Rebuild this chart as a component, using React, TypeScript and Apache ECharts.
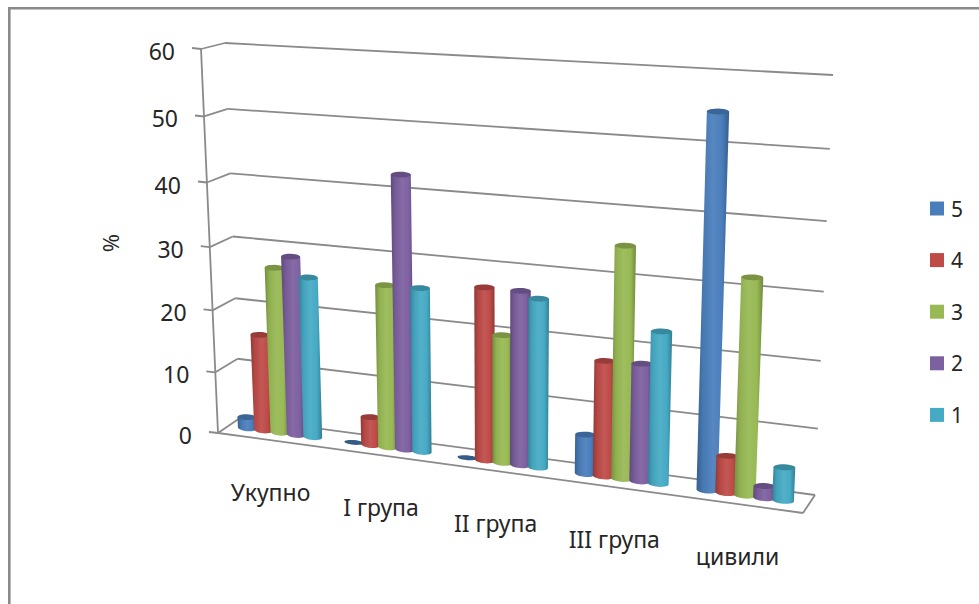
import React, { useEffect, useRef } from "react";
import * as echarts from "echarts";

const categories = ["Укупно", "I група", "II група", "III група", "цивили"];
const seriesNames = ["5", "4", "3", "2", "1"];
const grade5 = [1.8, 0, 0, 6.1, 54.8];
const grade4 = [15.7, 4.5, 26.9, 17.7, 5.6];
const grade3 = [26.7, 25.7, 19.9, 35, 32.1];
const grade2 = [28.7, 42.7, 26.9, 17.9, 1.8];
const grade1 = [25.7, 25.8, 26, 23, 5];
const gradeValues = [grade5, grade4, grade3, grade2, grade1];
const seriesColors = ["#4a7ebb", "#be4b48", "#98b954", "#7d60a0", "#46aac5"];
const valueTicks = [0, 10, 20, 30, 40, 50, 60];
const axisTitle = "%";

const LINE = "#8a8a8a";
const FONT = '"Noto Sans", sans-serif';

// Corners of the 3D plot box on screen: floor and ceiling of each vertical edge.
const CORNERS = {
  frontLeft: { floor: [218, 433], top: [201, 49] },
  backLeft: { floor: [240, 418], top: [225, 43] },
  backRight: { floor: [815, 495], top: [833, 75] },
  frontRight: { floor: [803, 513], top: [821, 83] },
};
const FORESHORTEN_ACROSS = 0.095;
const FORESHORTEN_UP = 0.066;
const BAR_STEP = 0.0305;
const BAR_RADIUS = 0.0172;
const LABEL_SHIFT = -0.008;
// Small sideways correction of each bar cluster inside its category band.
const CLUSTER_SHIFT = [-0.005, -0.008, -0.006, -0.004, -0.002];

const foreshorten = (t: number, k: number) => t / (1 + k * (1 - t));
const mix = (a: number[], b: number[], t: number) => [a[0] + (b[0] - a[0]) * t, a[1] + (b[1] - a[1]) * t];

// u: across the categories, depth: 0 front to 1 back, t: share of the value range.
function project(u: number, depth: number, t: number) {
  const across = foreshorten(u, FORESHORTEN_ACROSS);
  const up = foreshorten(t, FORESHORTEN_UP);
  const edge = (level: "floor" | "top") =>
    mix(
      mix(CORNERS.frontLeft[level], CORNERS.frontRight[level], across),
      mix(CORNERS.backLeft[level], CORNERS.backRight[level], across),
      depth
    );
  return mix(edge("floor"), edge("top"), up);
}

// Converts a data point into the unit box of the cartesian system that holds it.
function toUnit(api: any, sys: any, category: number, value: number) {
  const p = api.coord([category, value]);
  return { u: (p[0] - sys.x) / sys.width, t: (sys.y + sys.height - p[1]) / sys.height };
}

function shade(hex: string, f: number) {
  const n = parseInt(hex.slice(1), 16);
  const c = [(n >> 16) & 255, (n >> 8) & 255, n & 255].map((v) => {
    const out = f < 1 ? v * f : v + (255 - v) * (f - 1);
    return Math.round(out);
  });
  return `rgb(${c[0]},${c[1]},${c[2]})`;
}

function ellipseArc(center: number[], half: number[], ry: number, tilt: number, from: number, to: number, n: number) {
  const pts: number[][] = [];
  for (let i = 0; i <= n; i++) {
    const a = from + ((to - from) * i) / n;
    pts.push([center[0] + half[0] * Math.cos(a), center[1] + half[1] * tilt * Math.cos(a) + ry * Math.sin(a)]);
  }
  return pts;
}

function cylinderItem(seriesIndex: number, color: string) {
  return (params: any, api: any) => {
    const sys = params.coordSys;
    const category = api.value(0);
    const value = api.value(1);
    const { u, t } = toUnit(api, sys, category, value);
    const uc = u + CLUSTER_SHIFT[category] + (seriesIndex - 2) * BAR_STEP;
    const ends = [0, t].map((tt) => {
      const l = project(uc - BAR_RADIUS, 0.5, tt);
      const r = project(uc + BAR_RADIUS, 0.5, tt);
      return { l, r, c: mix(l, r, 0.5), half: [(r[0] - l[0]) / 2, (r[1] - l[1]) / 2] };
    });
    const [base, top] = ends;
    const children: any[] = [];
    if (value > 0.05) {
      const lower = ellipseArc(base.c, base.half, 3.2, 0.6, Math.PI, 0, 14);
      const topL = [top.c[0] - top.half[0], top.c[1] - top.half[1] * 0.25];
      const topR = [top.c[0] + top.half[0], top.c[1] + top.half[1] * 0.25];
      children.push({
        type: "polygon",
        shape: { points: [topL, ...lower, topR] },
        style: {
          fill: new echarts.graphic.LinearGradient(0, 0, 1, 0, [
            { offset: 0, color: shade(color, 0.76) },
            { offset: 0.2, color: shade(color, 0.95) },
            { offset: 0.5, color: shade(color, 1.07) },
            { offset: 0.78, color: color },
            { offset: 1, color: shade(color, 0.74) },
          ]),
        },
      });
    }
    children.push({
      type: "polygon",
      shape: { points: ellipseArc(top.c, top.half, value > 0.05 ? 2.9 : 2.4, value > 0.05 ? 0.25 : 0.6, 0, Math.PI * 2, 24) },
      style: { fill: shade(color, value > 0.05 ? 0.8 : 0.72) },
    });
    return { type: "group", children };
  };
}

const wallLine = (a: number[], b: number[], width = 1.8) => ({
  type: "line",
  shape: { x1: a[0], y1: a[1], x2: b[0], y2: b[1] },
  style: { stroke: LINE, lineWidth: width },
});

// Back wall, side wall and tick for one value of the scale, plus its label.
function wallItem(params: any, api: any) {
  const sys = params.coordSys;
  const value = api.value(1);
  const { t } = toUnit(api, sys, 0, value);
  const front = project(0, 0, t);
  const back = project(0, 1, t);
  const right = project(1, 1, t);
  return {
    type: "group",
    children: [
      wallLine(front, back),
      wallLine(back, right),
      wallLine([front[0] - 9, front[1] - 1], front),
      {
        type: "text",
        style: {
          text: String(value),
          x: front[0] - 26,
          y: front[1] + 2,
          fill: "#262626",
          font: `23px ${FONT}`,
          align: "right",
          verticalAlign: "middle",
        },
      },
    ],
  };
}

// Front edge of the floor, right edge of the floor and the upright value axis.
function frameItem() {
  const c = CORNERS;
  return {
    type: "group",
    children: [
      wallLine(c.frontLeft.top, c.frontLeft.floor),
      wallLine(c.frontLeft.floor, c.frontRight.floor),
      wallLine(c.frontRight.floor, c.backRight.floor),
    ],
  };
}

function categoryLabelItem(params: any, api: any) {
  const sys = params.coordSys;
  const { u } = toUnit(api, sys, api.value(0), 0);
  const p = project(u + LABEL_SHIFT, 0, 0);
  return {
    type: "text",
    style: {
      text: categories[api.value(0)],
      x: p[0] + 3,
      y: p[1] + 52,
      fill: "#262626",
      font: `23px ${FONT}`,
      align: "center",
      verticalAlign: "middle",
    },
  };
}

export default function App() {
  const ref = useRef<HTMLDivElement>(null);

  useEffect(() => {
    document.body.style.margin = "0";
    const chart = echarts.init(ref.current!, undefined, { renderer: "svg" });
    chart.setOption({
      animation: false,
      backgroundColor: "#ffffff",
      grid: { left: 218, top: 49, width: 585, height: 384 },
      xAxis: { type: "category", data: categories, show: false },
      yAxis: { type: "value", min: 0, max: 60, interval: 10, show: false },
      legend: {
        orient: "vertical",
        left: 925,
        top: 193,
        itemWidth: 14,
        itemHeight: 14,
        itemGap: 30.6,
        selectedMode: false,
        data: seriesNames.map((name) => ({ name, icon: "rect" })),
        textStyle: { fontFamily: FONT, fontSize: 21, color: "#262626", lineHeight: 14, height: 14, padding: [0, 0, 0, 2] },
      },
      graphic: [
        { type: "rect", shape: { x: 8, y: 7, width: 971, height: 2.6 }, style: { fill: LINE } },
        { type: "rect", shape: { x: 8, y: 7, width: 2.6, height: 597 }, style: { fill: LINE } },
        {
          type: "text",
          x: 110,
          y: 243,
          rotation: Math.PI / 2,
          style: { text: axisTitle, fill: "#262626", font: `22px ${FONT}`, align: "center", verticalAlign: "middle" },
        },
      ],
      series: [
        {
          type: "custom",
          name: "walls",
          silent: true,
          renderItem: wallItem,
          data: valueTicks.map((v) => [0, v]),
          encode: { x: 0, y: 1 },
        },
        {
          type: "custom",
          name: "frame",
          silent: true,
          renderItem: frameItem,
          data: [[0, 0]],
          encode: { x: 0, y: 1 },
        },
        {
          type: "custom",
          name: "labels",
          silent: true,
          renderItem: categoryLabelItem,
          data: categories.map((_, i) => [i, 0]),
          encode: { x: 0, y: 1 },
        },
        ...seriesNames.map((name, s) => ({
          type: "custom",
          name,
          itemStyle: { color: seriesColors[s] },
          renderItem: cylinderItem(s, seriesColors[s]),
          data: gradeValues[s].map((v, i) => [i, v]),
          encode: { x: 0, y: 1 },
        })),
      ],
    });
    return () => chart.dispose();
  }, []);

  return <div ref={ref} style={{ width: 979, height: 604 }} />;
}
